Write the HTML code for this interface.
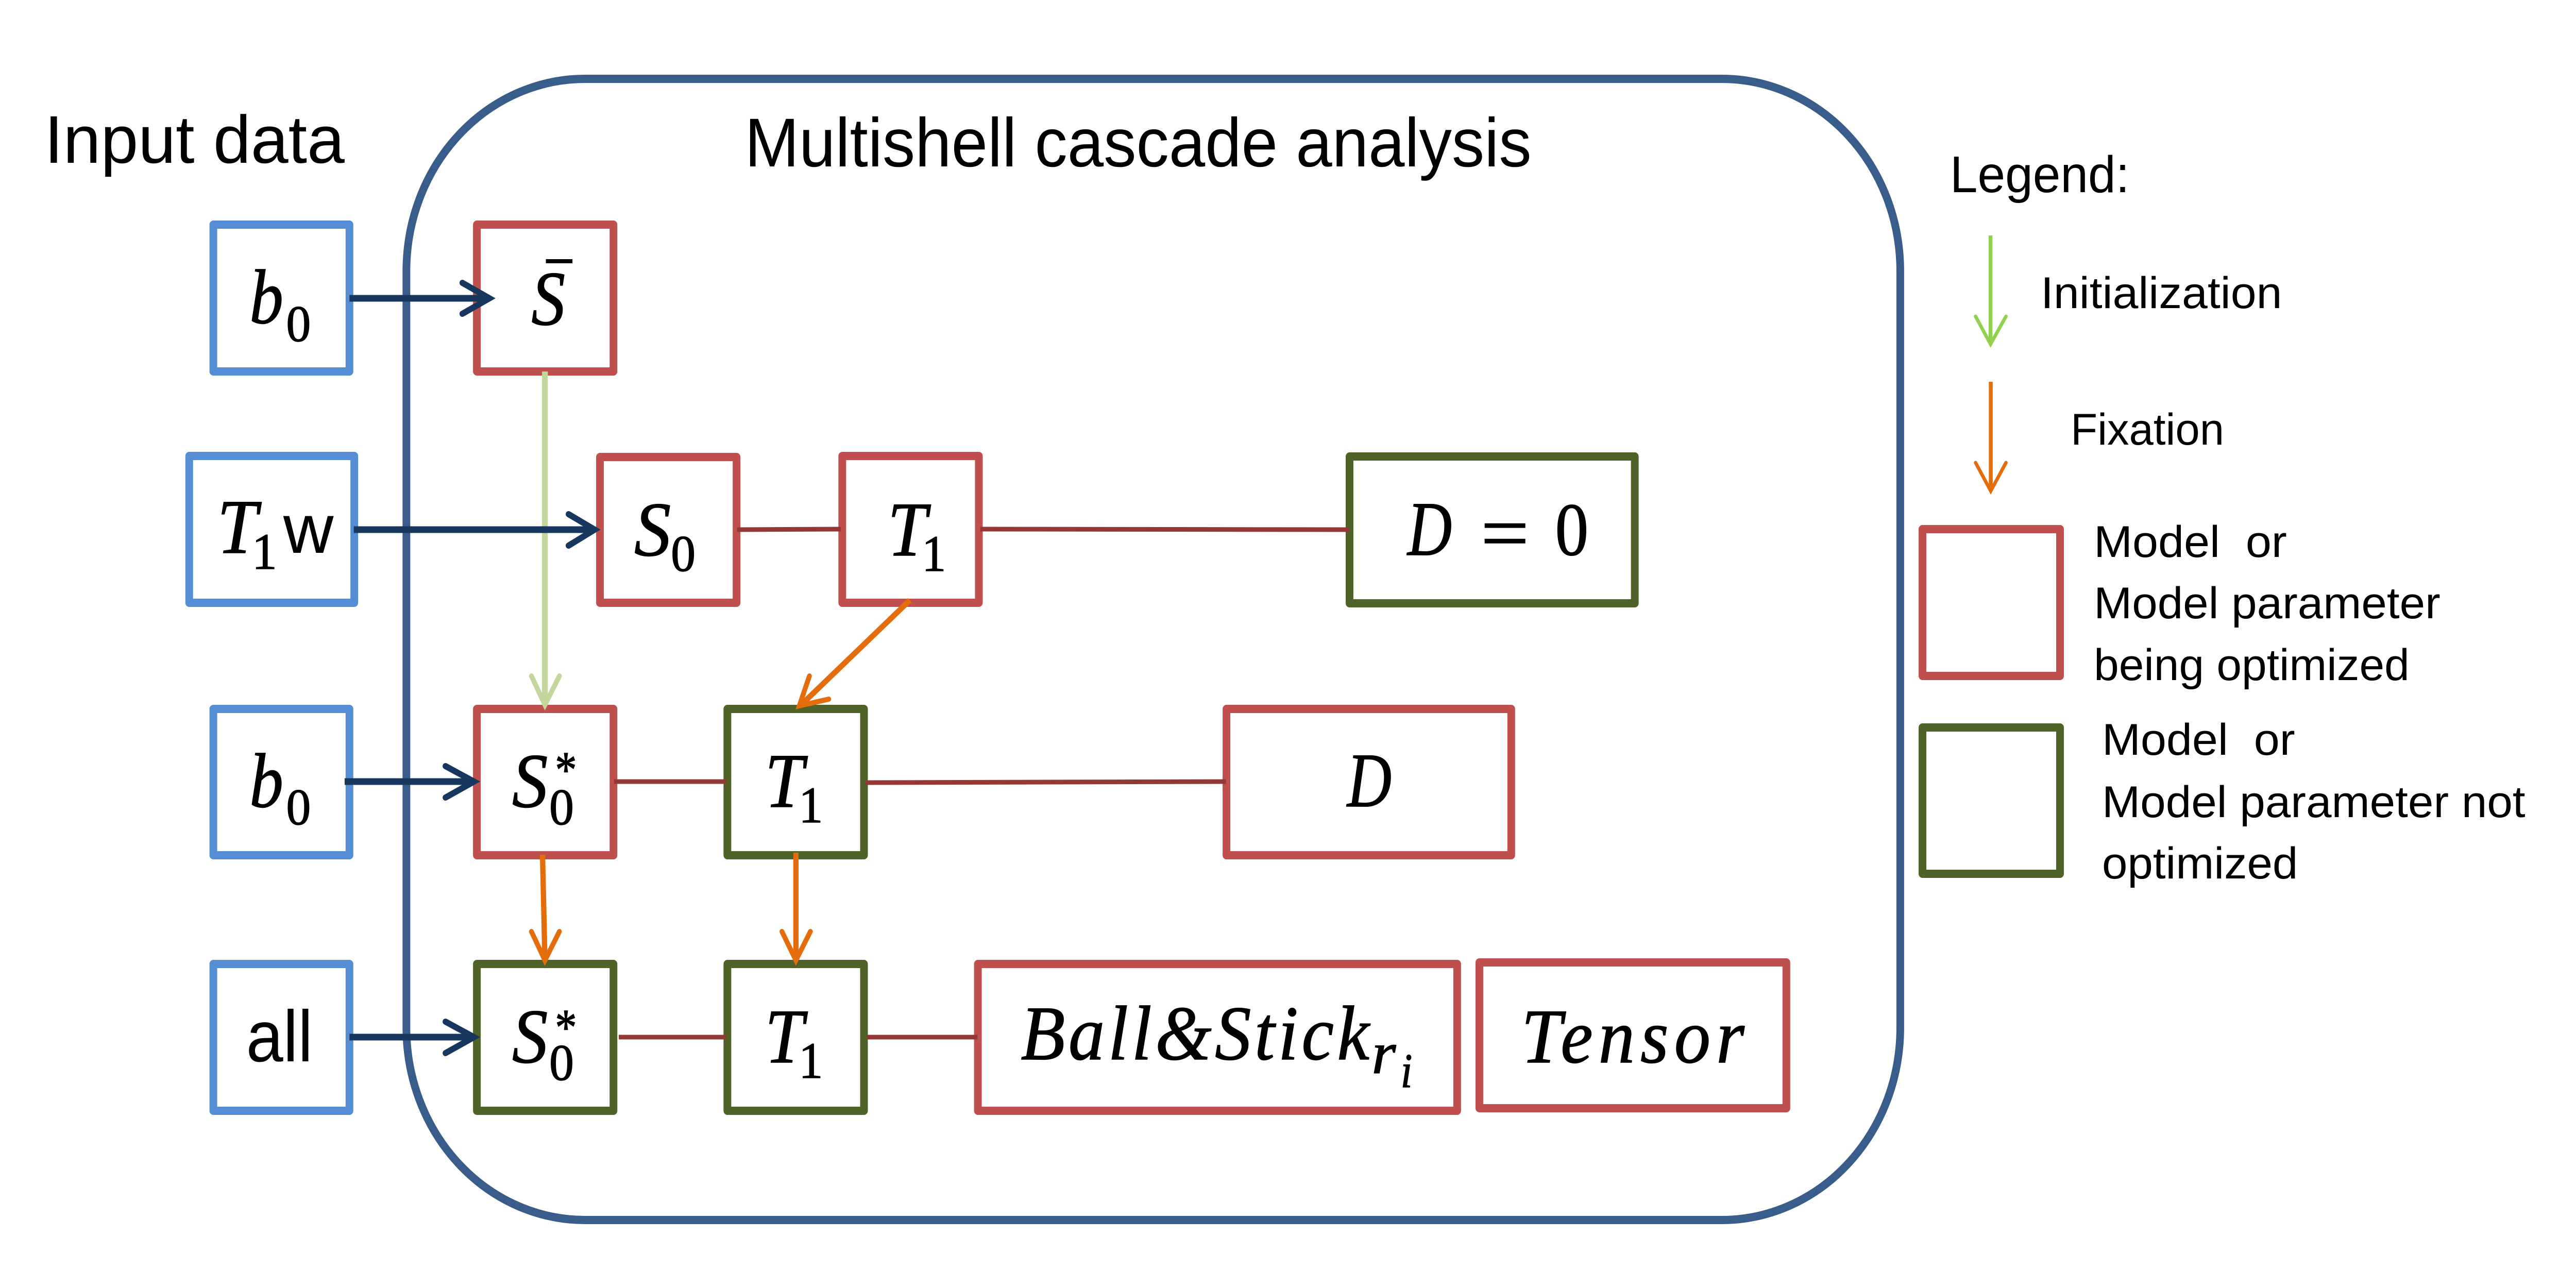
<!DOCTYPE html>
<html><head><meta charset="utf-8"><style>
html,body{margin:0;padding:0;background:#fff;width:100%;height:100%;overflow:hidden}
svg{display:block;position:absolute;left:0;top:0;width:100%;height:100%}
.s{font-family:"Liberation Sans",sans-serif;fill:#000}
.m{font-family:"Liberation Serif",serif;font-style:italic;fill:#000;stroke:#000;stroke-width:1.5}
.n{font-family:"Liberation Serif",serif;fill:#000;stroke:#000;stroke-width:1.5}
rect.b{fill:#fff;stroke-width:16;stroke-linejoin:round}
.bl{stroke:#558ed5}.re{stroke:#c0504d}.gr{stroke:#4f6228}
.l{fill:none;stroke-linecap:butt}
.h{fill:none;stroke-linecap:round;stroke-linejoin:miter}
</style></head><body>
<svg xmlns="http://www.w3.org/2000/svg" viewBox="0 0 5337 2465" preserveAspectRatio="none">
<rect width="5337" height="2465" fill="#fff"/>
<rect x="842" y="153" width="3095" height="2215" rx="370" ry="373" fill="none" stroke="#385d8a" stroke-width="16"/>

<!-- boxes -->
<g>
<rect class="b bl" x="442" y="436" width="282" height="285"/>
<rect class="b re" x="988" y="436" width="283" height="285"/>
<rect class="b bl" x="392" y="885" width="342" height="285"/>
<rect class="b re" x="1243" y="887" width="283" height="283"/>
<rect class="b re" x="1745" y="885" width="283" height="285"/>
<rect class="b gr" x="2796" y="886" width="591" height="285"/>
<rect class="b bl" x="442" y="1376" width="282" height="284"/>
<rect class="b re" x="988" y="1376" width="283" height="284"/>
<rect class="b gr" x="1507" y="1376" width="283" height="284"/>
<rect class="b re" x="2541" y="1376" width="590" height="284"/>
<rect class="b bl" x="442" y="1871" width="282" height="285"/>
<rect class="b gr" x="988" y="1871" width="283" height="285"/>
<rect class="b gr" x="1507" y="1871" width="283" height="285"/>
<rect class="b re" x="2026" y="1871" width="993" height="285"/>
<rect class="b re" x="3065" y="1868" width="636" height="283"/>
<rect class="b re" x="3983" y="1027" width="285" height="285"/>
<rect class="b gr" x="3983" y="1412" width="285" height="284"/>
</g>

<!-- connectors -->
<g class="l" stroke="#953735" stroke-width="9">
<path d="M1527 1028L1742 1027"/>
<path d="M2031 1027L2795 1028"/>
<path d="M1272 1517L1505 1517"/>
<path d="M1792 1519L2540 1517"/>
<path d="M1282 2013L1505 2013"/>
<path d="M1796 2013L2025 2013"/>
</g>

<!-- initialization arrow -->
<g stroke="#c3d69b">
<path class="l" stroke-width="12" d="M1129 721L1129 1368"/>
<path class="h" stroke-width="10" d="M1101 1312L1129 1368L1159 1312"/>
</g>

<!-- input arrows -->
<g stroke="#17375e">
<path class="l" stroke-width="13" d="M724 579L1014 579"/>
<path class="h" stroke-width="12" d="M958 549L1014 579L958 609"/>
<path class="l" stroke-width="13" d="M733 1028L1230 1028"/>
<path class="h" stroke-width="12" d="M1178 998L1232 1028L1178 1059"/>
<path class="l" stroke-width="13" d="M714 1517L982 1517"/>
<path class="h" stroke-width="12" d="M923 1487L982 1517L923 1548"/>
<path class="l" stroke-width="13" d="M724 2013L982 2013"/>
<path class="h" stroke-width="12" d="M923 1983L982 2013L923 2044"/>
</g>

<!-- fixation arrows -->
<g stroke="#e46c0a">
<path class="l" stroke-width="11" d="M1124 1659L1129 1864"/>
<path class="h" stroke-width="10" d="M1101 1808L1129 1864L1159 1808"/>
<path class="l" stroke-width="11" d="M1649 1655L1649 1864"/>
<path class="h" stroke-width="10" d="M1620 1808L1649 1864L1679 1808"/>
<path class="l" stroke-width="11" d="M1885 1165L1660 1368"/>
<path class="h" stroke-width="10" d="M1677 1312L1656 1370L1717 1357"/>
</g>

<!-- legend arrows -->
<g stroke="#92d050">
<path class="l" stroke-width="8" d="M4124 457L4124 668"/>
<path class="h" stroke-width="7" d="M4093 614L4124 668L4156 614"/>
</g>
<g stroke="#e46c0a">
<path class="l" stroke-width="8" d="M4124.5 741L4124.5 953"/>
<path class="h" stroke-width="7" d="M4093 898L4124.5 953L4156 898"/>
</g>

<!-- headings -->
<text class="s" x="92" y="316" font-size="131" textLength="622" lengthAdjust="spacingAndGlyphs">Input data</text>
<text class="s" x="1543" y="323" font-size="134" textLength="1630" lengthAdjust="spacingAndGlyphs">Multishell cascade analysis</text>

<!-- legend text -->
<text class="s" x="4040" y="373" font-size="100" textLength="372" lengthAdjust="spacingAndGlyphs">Legend:</text>
<text class="s" x="4228" y="598" font-size="86" textLength="500" lengthAdjust="spacingAndGlyphs">Initialization</text>
<text class="s" x="4290" y="863" font-size="86" textLength="318" lengthAdjust="spacingAndGlyphs">Fixation</text>
<text class="s" x="4338" y="1081" font-size="86" textLength="400" lengthAdjust="spacingAndGlyphs" xml:space="preserve">Model  or</text>
<text class="s" x="4338" y="1200" font-size="86" textLength="718" lengthAdjust="spacingAndGlyphs">Model parameter</text>
<text class="s" x="4338" y="1320" font-size="86" textLength="654" lengthAdjust="spacingAndGlyphs">being optimized</text>
<text class="s" x="4355" y="1465" font-size="86" textLength="400" lengthAdjust="spacingAndGlyphs" xml:space="preserve">Model  or</text>
<text class="s" x="4355" y="1586" font-size="86" textLength="877" lengthAdjust="spacingAndGlyphs">Model parameter not</text>
<text class="s" x="4355" y="1705" font-size="86" textLength="406" lengthAdjust="spacingAndGlyphs">optimized</text>

<!-- math row 1 -->
<text class="m" x="517" y="627" font-size="150" textLength="70" lengthAdjust="spacingAndGlyphs">b</text>
<text class="n" x="593" y="662" font-size="100" textLength="51" lengthAdjust="spacingAndGlyphs">0</text>
<text class="m" x="1101" y="630" font-size="150" textLength="70" lengthAdjust="spacingAndGlyphs">S</text>
<rect x="1131" y="503" width="55" height="8" fill="#000"/>

<!-- math row 2 -->
<text class="m" x="450" y="1073" font-size="150" textLength="83" lengthAdjust="spacingAndGlyphs">T</text>
<text class="n" x="522" y="1104" font-size="100" textLength="52" lengthAdjust="spacingAndGlyphs">1</text>
<text class="s" x="587" y="1073" font-size="135" textLength="104" lengthAdjust="spacingAndGlyphs">w</text>
<text class="m" x="1314" y="1078" font-size="150" textLength="76" lengthAdjust="spacingAndGlyphs">S</text>
<text class="n" x="1390" y="1108" font-size="100" textLength="51" lengthAdjust="spacingAndGlyphs">0</text>
<text class="m" x="1839" y="1078" font-size="150" textLength="81" lengthAdjust="spacingAndGlyphs">T</text>
<text class="n" x="1910" y="1108" font-size="100" textLength="50" lengthAdjust="spacingAndGlyphs">1</text>
<text class="m" x="2916" y="1077" font-size="150" textLength="92" lengthAdjust="spacingAndGlyphs">D</text>
<text class="n" x="3068" y="1085" font-size="150" textLength="100" lengthAdjust="spacingAndGlyphs">=</text>
<text class="n" x="3222" y="1077" font-size="146" textLength="69" lengthAdjust="spacingAndGlyphs">0</text>

<!-- math row 3 -->
<text class="m" x="517" y="1566" font-size="150" textLength="70" lengthAdjust="spacingAndGlyphs">b</text>
<text class="n" x="593" y="1600" font-size="100" textLength="51" lengthAdjust="spacingAndGlyphs">0</text>
<text class="m" x="1061" y="1566" font-size="150" textLength="74" lengthAdjust="spacingAndGlyphs">S</text>
<text class="n" x="1150" y="1527" font-size="100" textLength="45" lengthAdjust="spacingAndGlyphs">*</text>
<text class="n" x="1138" y="1600" font-size="100" textLength="51" lengthAdjust="spacingAndGlyphs">0</text>
<text class="m" x="1585" y="1566" font-size="150" textLength="80" lengthAdjust="spacingAndGlyphs">T</text>
<text class="n" x="1655" y="1596" font-size="100" textLength="50" lengthAdjust="spacingAndGlyphs">1</text>
<text class="m" x="2791" y="1565" font-size="150" textLength="92" lengthAdjust="spacingAndGlyphs">D</text>

<!-- math row 4 -->
<text class="s" x="510" y="2060" font-size="141" textLength="138" lengthAdjust="spacingAndGlyphs">all</text>
<text class="m" x="1061" y="2062" font-size="150" textLength="74" lengthAdjust="spacingAndGlyphs">S</text>
<text class="n" x="1150" y="2027" font-size="100" textLength="45" lengthAdjust="spacingAndGlyphs">*</text>
<text class="n" x="1138" y="2096" font-size="100" textLength="51" lengthAdjust="spacingAndGlyphs">0</text>
<text class="m" x="1585" y="2062" font-size="150" textLength="80" lengthAdjust="spacingAndGlyphs">T</text>
<text class="n" x="1655" y="2092" font-size="100" textLength="50" lengthAdjust="spacingAndGlyphs">1</text>
<text class="m" x="2115" y="2056" font-size="150" textLength="722" lengthAdjust="spacing">Ball&amp;Stick</text>
<text class="m" x="2842" y="2083" font-size="115" textLength="50" lengthAdjust="spacingAndGlyphs">r</text>
<text class="m" x="2902" y="2110" font-size="94" textLength="24" lengthAdjust="spacingAndGlyphs">i</text>
<text class="m" x="3152" y="2062" font-size="150" textLength="462" lengthAdjust="spacing">Tensor</text>
</svg>
</body></html>
